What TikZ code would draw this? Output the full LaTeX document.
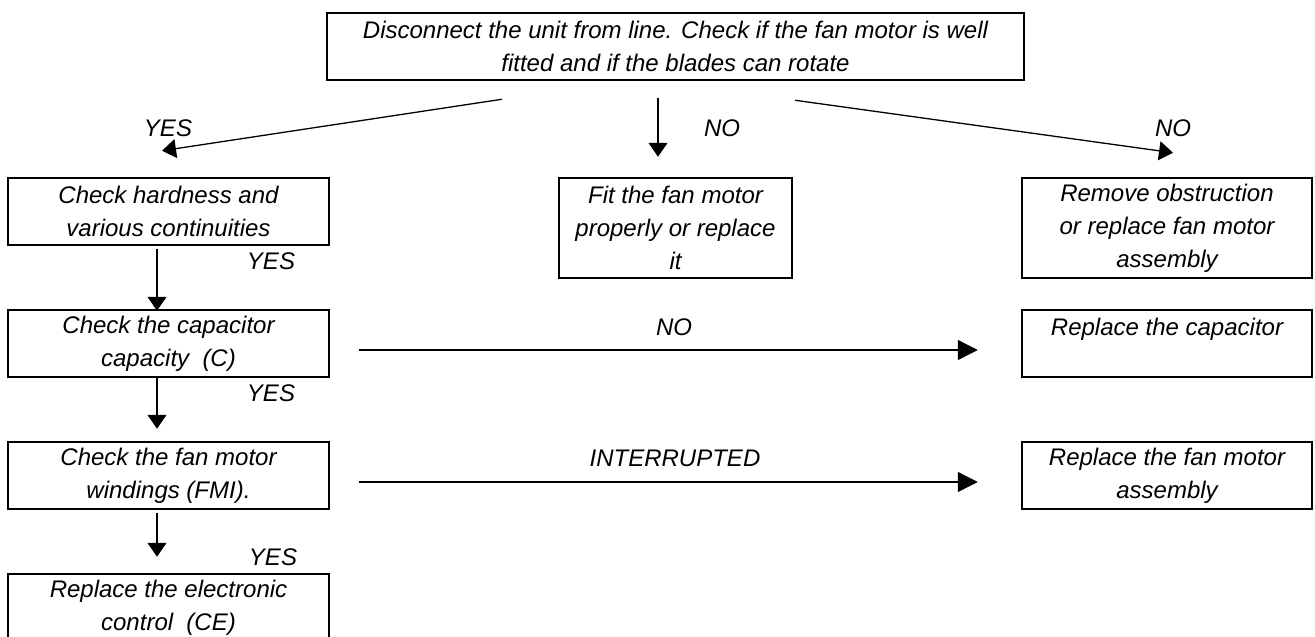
\documentclass[tikz,border=0pt]{standalone}
\usepackage{fontspec}
\setmainfont{Liberation Sans}
\usetikzlibrary{arrows.meta}
\tikzset{
	MyBox/.style={draw, line width=2.5pt, inner sep=0pt, align=center, font=\fontsize{24}{33}\selectfont\itshape},
	MyLabel/.style={inner sep=0pt, font=\fontsize{24}{33}\selectfont\itshape},
	MyArrow/.style={line width=1.3pt, -{Triangle[length=14pt, width=19pt]}},
	MyHArrow/.style={line width=1.3pt, -{Triangle[length=20pt, width=20pt]}}
}

\begin{document}
\begin{tikzpicture}[x=1pt, y=-1pt]
	\useasboundingbox (0,0) rectangle (1315,637);
	\def\colL{168.5} % Left column
	\def\colM{675.5} % Middle column
	\def\colR{1167} % Right column

	% Top box
	\node[MyBox, minimum width=697pt, minimum height=67pt] (top) at (\colM,46.5)
		{Disconnect the unit from line. Check if the fan motor is well\\fitted and if the blades can rotate};

	% Left column
	\node[MyBox, minimum width=321pt, minimum height=67pt] (hard) at (\colL,211.5) {Check hardness and\\various continuities};
	\node[MyBox, minimum width=321pt, minimum height=67pt] (cap) at (\colL,343.5) {Check the capacitor\\capacity\ \ (C)};
	\node[MyBox, minimum width=321pt, minimum height=67pt] (wind) at (\colL,475.5) {Check the fan motor\\windings (FMI).};
	\node[MyBox, minimum width=321pt, minimum height=67pt] (elec) at (\colL,607.5) {Replace the electronic\\control\ \ (CE)};

	% Middle and right columns
	\node[MyBox, minimum width=233pt, minimum height=100pt] (fit) at (\colM,228) {Fit the fan motor\\properly or replace\\it};
	\node[MyBox, minimum width=290pt, minimum height=100pt] (obst) at (\colR,228) {Remove obstruction\\or replace fan motor\\assembly};
	\node[MyBox, minimum width=290pt, minimum height=67pt] (rcap) at (\colR,343.5) {Replace the capacitor\\\mbox{}};
	\node[MyBox, minimum width=290pt, minimum height=67pt] (rfan) at (\colR,475.5) {Replace the fan motor\\assembly};

	% Arrows from the top box
	\draw[MyArrow] ([xshift=-173.5pt, yshift=-18pt]top.south) -- ([xshift=-6.5pt, yshift=26pt]hard.north);
	\draw[MyArrow] ([xshift=-17.5pt, yshift=-17pt]top.south) -- ([xshift=-17.5pt, yshift=20pt]fit.north);
	\draw[MyArrow] ([xshift=119.5pt, yshift=-19pt]top.south) -- ([xshift=6pt, yshift=24pt]obst.north);

	% Down the left column
	\draw[MyArrow] ([xshift=-11.5pt, yshift=-3pt]hard.south) -- ([xshift=-11.5pt, yshift=-2pt]cap.north);
	\draw[MyArrow] ([xshift=-11.5pt]cap.south) -- ([xshift=-11.5pt, yshift=12pt]wind.north);
	\draw[MyArrow] ([xshift=-11.5pt, yshift=-3pt]wind.south) -- ([xshift=-11.5pt, yshift=16pt]elec.north);

	% Across to the right column
	\draw[MyHArrow] ([xshift=29pt, yshift=-6.5pt]cap.east) -- ([xshift=-43pt, yshift=-6.5pt]rcap.west);
	\draw[MyHArrow] ([xshift=29pt, yshift=-6.5pt]wind.east) -- ([xshift=-43pt, yshift=-6.5pt]rfan.west);

	% Labels
	\node[MyLabel] (yesA) at (168,128) {YES};
	\node[MyLabel] (noB) at (722,128) {NO};
	\node[MyLabel] (noC) at (1173,128) {NO};
	\node[MyLabel] (yesD) at (271,261) {YES};
	\node[MyLabel] (yesE) at (271,393) {YES};
	\node[MyLabel] (yesF) at (273,557) {YES};
	\node[MyLabel] (noG) at (674,327) {NO};
	\node[MyLabel] (intH) at (675,458) {INTERRUPTED};
\end{tikzpicture}
\end{document}
